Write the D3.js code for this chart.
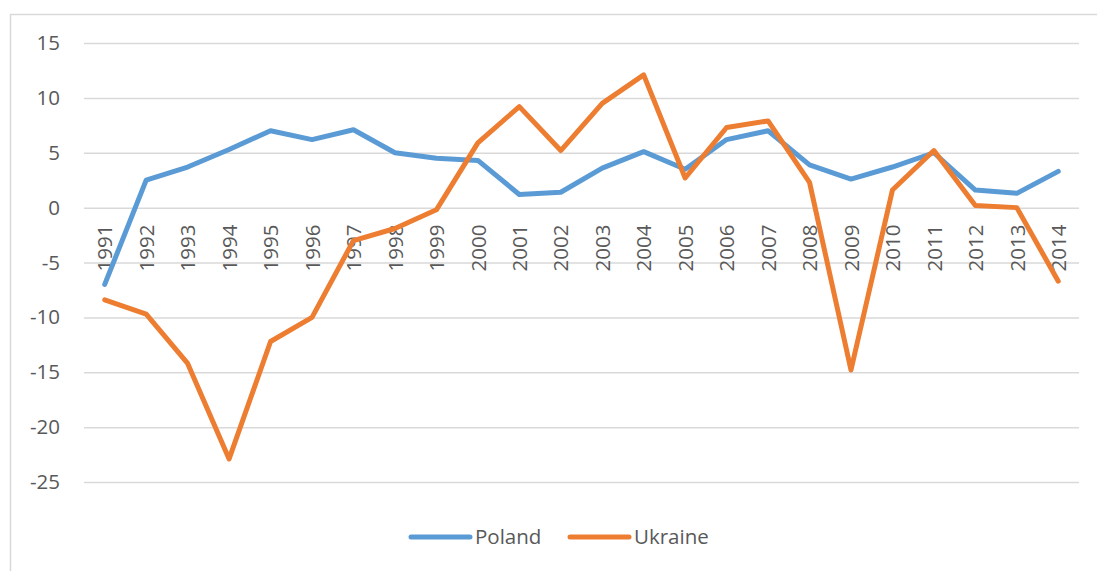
<!DOCTYPE html>
<html>
<head>
<meta charset="utf-8">
<script src="https://cdn.jsdelivr.net/npm/d3@7"></script>
<style>
  body { margin: 0; background: #fff; }
  svg text { font-family: "Open Sans", "DejaVu Sans", sans-serif; fill: #595959; }
</style>
</head>
<body>
<div id="chart"></div>
<script>
const years = ["1991","1992","1993","1994","1995","1996","1997","1998","1999","2000","2001","2002",
               "2003","2004","2005","2006","2007","2008","2009","2010","2011","2012","2013","2014"];

const poland = [-7.0, 2.5, 3.7, 5.3, 7.0, 6.2, 7.1, 5.0, 4.5, 4.3, 1.2, 1.4,
                3.6, 5.1, 3.5, 6.2, 7.0, 3.9, 2.6, 3.7, 5.0, 1.6, 1.3, 3.3];

const ukraine = [-8.4, -9.7, -14.2, -22.9, -12.2, -10.0, -3.0, -1.9, -0.2, 5.9, 9.2, 5.2,
                 9.5, 12.1, 2.7, 7.3, 7.9, 2.3, -14.8, 1.6, 5.2, 0.2, 0.0, -6.7];

const yTicks = [15, 10, 5, 0, -5, -10, -15, -20, -25];

const series = [
    { name: "Poland", values: poland, color: "#5B9BD5" },
    { name: "Ukraine", values: ukraine, color: "#ED7D31" }
];

const width = 1097, height = 571;
const plot = { left: 84, right: 1079, top: 43, bottom: 482 };
const fontSize = 20.5;

const svg = d3.select("#chart")
    .append("svg")
    .attr("width", width)
    .attr("height", height);

// chart area border
svg.append("rect")
    .attr("x", 10.5).attr("y", 14.5)
    .attr("width", 1100).attr("height", 600)
    .attr("fill", "none")
    .attr("stroke", "#d9d9d9")
    .attr("stroke-width", 1.5);

const x = d3.scalePoint()
    .domain(years)
    .range([plot.left, plot.right])
    .padding(0.5);

const y = d3.scaleLinear()
    .domain([-25, 15])
    .range([plot.bottom, plot.top]);

// gridlines + y labels
const yAxis = svg.append("g")
    .attr("transform", `translate(${plot.left},0)`)
    .call(d3.axisLeft(y).tickValues(yTicks).tickSize(-(plot.right - plot.left)).tickPadding(24).tickFormat(d3.format("d")));

yAxis.select(".domain").remove();
yAxis.selectAll(".tick line")
    .attr("stroke", "#d9d9d9")
    .attr("stroke-width", 1.5);
yAxis.selectAll(".tick text")
    .attr("font-size", fontSize)
    .style("font-family", "'Open Sans', 'DejaVu Sans', sans-serif")
    .attr("fill", "#595959")
    .text(d => d < 0 ? "-" + Math.abs(d) : d);

// x labels, rotated, hung just below the zero line
const xAxis = svg.append("g")
    .attr("transform", `translate(0,${y(0)})`)
    .call(d3.axisBottom(x).tickSize(0).tickPadding(0));

xAxis.select(".domain").remove();
xAxis.selectAll(".tick text")
    .attr("font-size", fontSize)
    .style("font-family", "'Open Sans', 'DejaVu Sans', sans-serif")
    .attr("fill", "#595959")
    .attr("transform", "rotate(-90)")
    .attr("x", -17)
    .attr("y", 0)
    .attr("dy", "0.35em")
    .attr("text-anchor", "end");

// lines
const line = d3.line()
    .x((d, i) => x(years[i]))
    .y(d => y(d));

svg.selectAll(".series")
    .data(series)
    .enter()
    .append("path")
    .attr("class", "series")
    .attr("d", d => line(d.values))
    .attr("fill", "none")
    .attr("stroke", d => d.color)
    .attr("stroke-width", 5)
    .attr("stroke-linejoin", "round")
    .attr("stroke-linecap", "round");

// legend
const legendX = [411, 570];
const legend = svg.selectAll(".legend")
    .data(series)
    .enter()
    .append("g")
    .attr("class", "legend")
    .attr("transform", (d, i) => `translate(${legendX[i]},537)`);

legend.append("line")
    .attr("x1", 0).attr("x2", 59)
    .attr("y1", 0).attr("y2", 0)
    .attr("stroke", d => d.color)
    .attr("stroke-width", 5)
    .attr("stroke-linecap", "round");

legend.append("text")
    .attr("x", 64)
    .attr("dy", "0.35em")
    .attr("font-size", fontSize)
    .text(d => d.name);
</script>
</body>
</html>
